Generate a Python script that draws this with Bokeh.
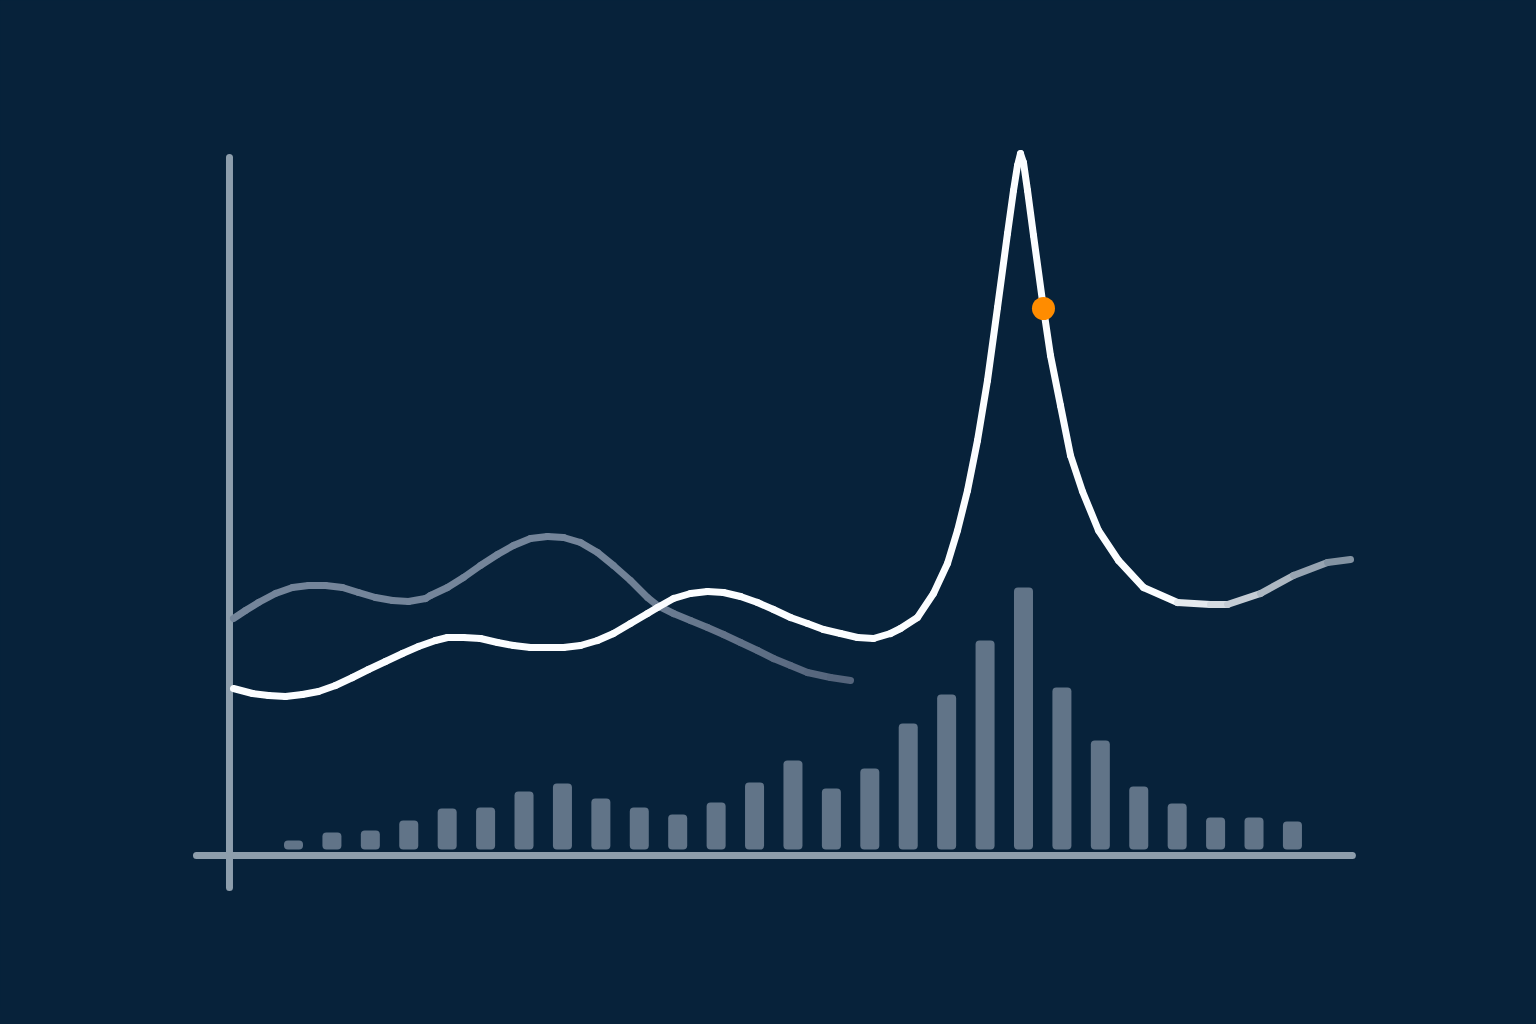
from bokeh.plotting import figure
from bokeh.models import Range1d, ColumnDataSource
from bokeh.embed import file_html
from bokeh.resources import INLINE

# ---- data ----
bar_positions = list(range(27))
bar_values = [0.9, 1.7, 1.9, 2.9, 4.1, 4.2, 5.8, 6.6, 5.1, 4.2, 3.5, 4.7, 6.7, 8.9,
              6.1, 8.1, 12.6, 15.5, 20.9, 26.2, 16.2, 10.9, 6.3, 4.6, 3.2, 3.2, 2.8]

white_x = [-1.562, -1.067, -0.651, -0.208, 0.234, 0.651, 1.093, 1.536, 1.952, 2.395,
           2.837, 3.254, 3.696, 4.008, 4.425, 4.867, 5.310, 5.726, 6.169, 6.611,
           7.028, 7.470, 7.913, 8.329, 8.771, 9.214, 9.474, 9.891, 10.333, 10.776,
           11.192, 11.634, 12.077, 12.493, 12.936, 13.378, 13.795, 14.237, 14.680, 15.096,
           15.539, 15.799, 16.241, 16.658, 17.022, 17.283, 17.543, 17.803, 18.063, 18.324,
           18.584, 18.740, 18.844, 18.922, 19.000, 19.105, 19.261, 19.521, 19.703, 19.963,
           20.224, 20.536, 20.953, 21.473, 22.124, 23.009, 23.868, 24.310, 25.169, 26.028,
           26.913, 27.512]
white_y = [16.1, 15.6, 15.4, 15.3, 15.5, 15.8, 16.4, 17.2, 18.0, 18.8,
           19.6, 20.3, 20.9, 21.2, 21.2, 21.1, 20.7, 20.4, 20.2, 20.2,
           20.2, 20.4, 20.9, 21.6, 22.6, 23.6, 24.2, 25.1, 25.6, 25.8,
           25.7, 25.3, 24.7, 24.0, 23.2, 22.6, 22.0, 21.6, 21.2, 21.1,
           21.6, 22.1, 23.2, 25.6, 28.6, 31.9, 35.9, 40.9, 46.9, 54.2,
           61.6, 65.9, 68.4, 69.6, 68.7, 65.9, 61.4, 54.1, 49.4, 44.4,
           39.4, 35.8, 31.9, 28.9, 26.2, 24.7, 24.5, 24.5, 25.6, 27.4,
           28.7, 29.0]

gray_x = [-1.562, -1.249, -0.911, -0.469, -0.026, 0.390, 0.833, 1.275, 1.692, 2.134,
          2.577, 2.993, 3.436, 3.566, 4.008, 4.425, 4.867, 5.310, 5.726, 6.169,
          6.611, 7.028, 7.470, 7.913, 8.329, 8.771, 9.214, 9.474, 9.891, 10.333,
          10.776, 11.192, 11.634, 12.077, 12.493, 12.936, 13.378, 13.977, 14.498]
gray_y = [23.1, 23.9, 24.7, 25.6, 26.2, 26.4, 26.4, 26.2, 25.7, 25.2,
          24.9, 24.8, 25.1, 25.4, 26.2, 27.2, 28.4, 29.5, 30.4, 31.1,
          31.3, 31.2, 30.7, 29.7, 28.4, 26.9, 25.2, 24.4, 23.6, 22.9,
          22.2, 21.5, 20.7, 19.9, 19.1, 18.4, 17.7, 17.2, 16.9]

marker_x = [19.52]
marker_y = [54.1]

x_axis_span = [-2.525, 27.56]
x_axis_level = -0.6
y_axis_span = [-3.8, 69.2]
y_axis_level = -1.666

BG = "#07223a"


def mix(c1, c2, t):
    t = max(0.0, min(1.0, t))
    a = [int(c1[i:i + 2], 16) for i in (1, 3, 5)]
    b = [int(c2[i:i + 2], 16) for i in (1, 3, 5)]
    return "#%02x%02x%02x" % tuple(round(a[k] + (b[k] - a[k]) * t) for k in range(3))


def segments(xs, ys, c_from, c_to, x0, x1):
    sx, sy, cols = [], [], []
    for i in range(len(xs) - 1):
        sx.append([xs[i], xs[i + 1]])
        sy.append([ys[i], ys[i + 1]])
        xm = 0.5 * (xs[i] + xs[i + 1])
        cols.append(mix(c_from, c_to, (xm - x0) / (x1 - x0)))
    return ColumnDataSource(dict(xs=sx, ys=sy, color=cols))


p = figure(width=1520, height=1008, output_backend="svg", toolbar_location=None,
           x_range=Range1d(-7.626, 31.936), y_range=Range1d(-15.9, 84.9),
           min_border=0)
p.axis.visible = False
p.grid.visible = False
p.outline_line_color = None
p.background_fill_color = BG
p.border_fill_color = BG

# bars
p.vbar(x=bar_positions, top=bar_values, bottom=0, width=0.495,
       fill_color="#617488", line_color=None, border_radius=4)

# axis lines
p.segment(x0=[y_axis_level], y0=[y_axis_span[0]], x1=[y_axis_level], y1=[y_axis_span[1]],
          line_color="#8d9eac", line_width=7, line_cap="round")
p.segment(x0=[x_axis_span[0]], y0=[x_axis_level], x1=[x_axis_span[1]], y1=[x_axis_level],
          line_color="#8d9eac", line_width=7, line_cap="round")

# gray line
p.multi_line(xs="xs", ys="ys", line_color="color", line_width=7, line_cap="round",
             line_join="round", source=segments(gray_x, gray_y, "#74859a", "#53637a", 8.0, 14.5))

# white line
p.multi_line(xs="xs", ys="ys", line_color="color", line_width=7, line_cap="round",
             line_join="round", source=segments(white_x, white_y, "#fbfdff", "#7c8c9c", 22.6, 27.5))

# highlight marker
p.scatter(x=marker_x, y=marker_y, size=23, fill_color="#ff8c00", line_color=None)

html = file_html(p, INLINE)
html = html.replace("<head>", "<head><style>body{background:%s;}</style>" % BG, 1)
open("out.html", "w").write(html)
